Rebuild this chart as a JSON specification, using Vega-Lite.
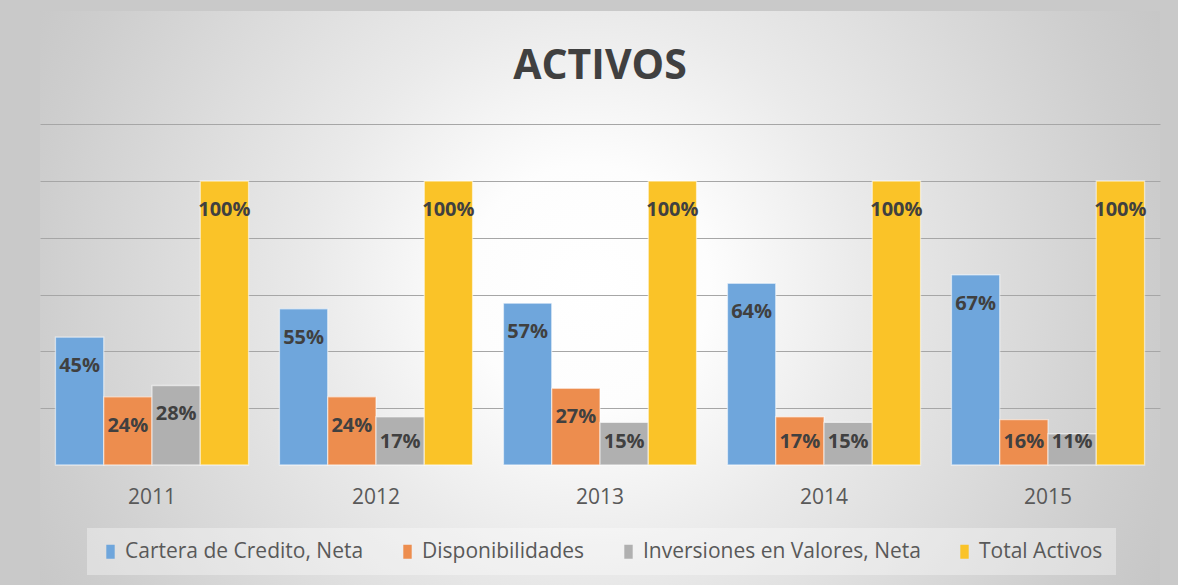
{
  "$schema": "https://vega.github.io/schema/vega-lite/v6.json",
  "width": 1120,
  "height": 574,
  "autosize": {"type": "none"},
  "padding": {"left": 40, "right": 18, "top": 11, "bottom": 0},
  "background": "#c9c9c9",
  "view": {
    "stroke": null,
    "fill": {
      "gradient": "radial",
      "x1": 0.49, "y1": 0.49, "r1": 0,
      "x2": 0.49, "y2": 0.49, "r2": 0.6,
      "stops": [
        {"offset": 0, "color": "#ffffff"},
        {"offset": 0.18, "color": "#fdfdfd"},
        {"offset": 0.41, "color": "#eaeaea"},
        {"offset": 0.82, "color": "#cecece"},
        {"offset": 1, "color": "#c4c4c4"}
      ]
    }
  },
  "title": {
    "text": "ACTIVOS",
    "offset": -109,
    "baseline": "alphabetic",
    "anchor": "middle",
    "font": "Open Sans",
    "fontSize": 41,
    "fontWeight": "bold",
    "color": "#404040"
  },
  "data": {
    "values": [
      {"year": "2011", "serie": "Cartera de Credito, Neta", "value": 0.45},
      {"year": "2011", "serie": "Disponibilidades", "value": 0.24},
      {"year": "2011", "serie": "Inversiones en Valores, Neta", "value": 0.28},
      {"year": "2011", "serie": "Total Activos", "value": 1.0},
      {"year": "2012", "serie": "Cartera de Credito, Neta", "value": 0.55},
      {"year": "2012", "serie": "Disponibilidades", "value": 0.24},
      {"year": "2012", "serie": "Inversiones en Valores, Neta", "value": 0.17},
      {"year": "2012", "serie": "Total Activos", "value": 1.0},
      {"year": "2013", "serie": "Cartera de Credito, Neta", "value": 0.57},
      {"year": "2013", "serie": "Disponibilidades", "value": 0.27},
      {"year": "2013", "serie": "Inversiones en Valores, Neta", "value": 0.15},
      {"year": "2013", "serie": "Total Activos", "value": 1.0},
      {"year": "2014", "serie": "Cartera de Credito, Neta", "value": 0.64},
      {"year": "2014", "serie": "Disponibilidades", "value": 0.17},
      {"year": "2014", "serie": "Inversiones en Valores, Neta", "value": 0.15},
      {"year": "2014", "serie": "Total Activos", "value": 1.0},
      {"year": "2015", "serie": "Cartera de Credito, Neta", "value": 0.67},
      {"year": "2015", "serie": "Disponibilidades", "value": 0.16},
      {"year": "2015", "serie": "Inversiones en Valores, Neta", "value": 0.11},
      {"year": "2015", "serie": "Total Activos", "value": 1.0}
    ]
  },
  "encoding": {
    "x": {
      "field": "year",
      "type": "nominal",
      "scale": {"paddingInner": 0.138, "paddingOuter": 0.069},
      "axis": {
        "title": null,
        "orient": "bottom",
        "offset": -120,
        "domain": false,
        "ticks": false,
        "labelAngle": 0,
        "labelPadding": 21,
        "labelFont": "Open Sans",
        "labelFontSize": 21,
        "labelColor": "#595959"
      }
    },
    "xOffset": {
      "field": "serie",
      "type": "nominal",
      "sort": ["Cartera de Credito, Neta", "Disponibilidades", "Inversiones en Valores, Neta", "Total Activos"],
      "scale": {"paddingInner": 0, "paddingOuter": 0}
    }
  },
  "layer": [
    {
      "mark": {"type": "bar", "stroke": "#ffffff", "strokeOpacity": 0.55, "strokeWidth": 1.3},
      "encoding": {
        "y": {
          "field": "value",
          "type": "quantitative",
          "scale": {"domain": [-0.4225, 1.5986], "nice": false, "zero": false},
          "axis": {
            "title": null,
            "values": [0.2, 0.4, 0.6, 0.8, 1.0, 1.2],
            "grid": true,
            "gridColor": "#a6a6a6",
            "gridWidth": 1,
            "labels": false,
            "ticks": false,
            "domain": false
          }
        },
        "color": {
          "field": "serie",
          "type": "nominal",
          "scale": {
            "domain": ["Cartera de Credito, Neta", "Disponibilidades", "Inversiones en Valores, Neta", "Total Activos"],
            "range": ["#6fa6dc", "#ed8d4e", "#b0b0b0", "#fac328"]
          },
          "legend": {
            "title": null,
            "orient": "none",
            "legendX": 47,
            "legendY": 517,
            "direction": "horizontal",
            "columns": 4,
            "columnPadding": 33,
            "labelFont": "Open Sans",
            "labelFontSize": 21,
            "labelColor": "#595959",
            "labelOffset": 4,
            "labelLimit": 400,
            "symbolType": "M-0.6,-1H0.6V1H-0.6Z",
            "symbolSize": 196,
            "symbolStrokeWidth": 0,
            "symbolOpacity": 1,
            "padding": 13,
            "fillColor": "rgba(255,255,255,0.35)"
          }
        }
      }
    },
    {
      "mark": {"type": "rule", "color": "#404040", "strokeWidth": 3.5},
      "encoding": {"y": {"datum": 0}}
    },
    {
      "transform": [{"filter": "datum.value >= 0.2"}],
      "mark": {"type": "text", "baseline": "alphabetic", "dy": 35, "font": "Open Sans", "fontWeight": "bold", "fontSize": 20, "color": "#404040"},
      "encoding": {
        "y": {"field": "value", "type": "quantitative"},
        "text": {"field": "value", "type": "quantitative", "format": ".0%"}
      }
    },
    {
      "transform": [{"filter": "datum.value < 0.2"}],
      "mark": {"type": "text", "baseline": "alphabetic", "font": "Open Sans", "fontWeight": "bold", "fontSize": 20, "color": "#404040"},
      "encoding": {
        "y": {"datum": 0.06},
        "text": {"field": "value", "type": "quantitative", "format": ".0%"}
      }
    }
  ]
}
